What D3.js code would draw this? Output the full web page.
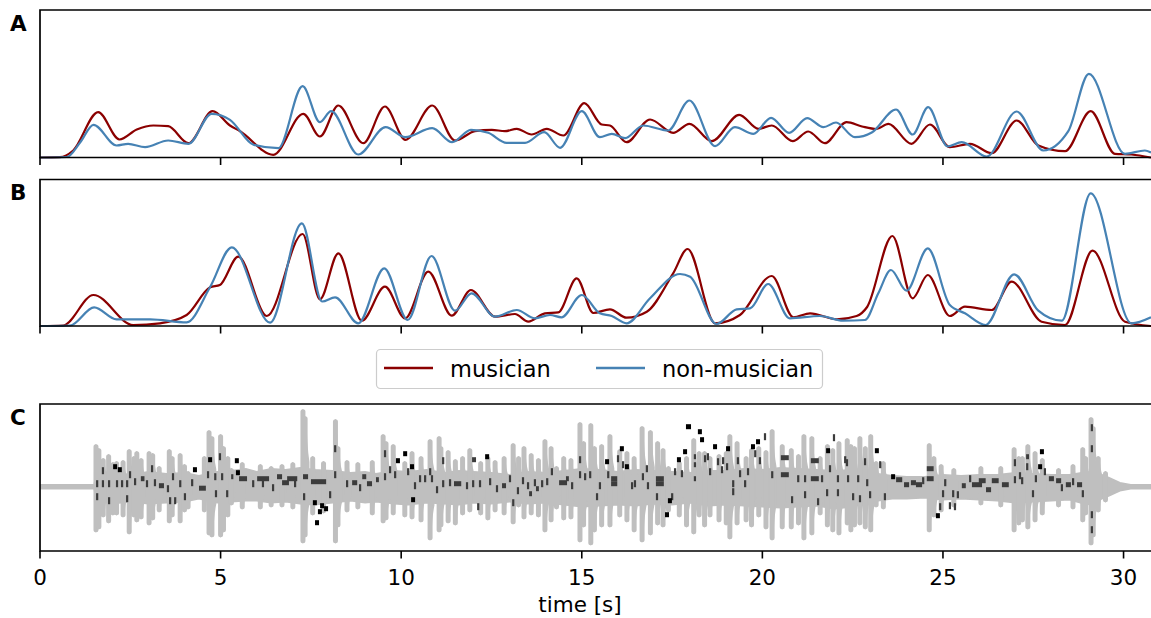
<!DOCTYPE html>
<html>
<head>
<meta charset="utf-8">
<script src="https://cdn.jsdelivr.net/npm/d3@7"></script>
<style>
  body { margin: 0; background: #fff; }
  svg { display: block; font-family: "DejaVu Sans", sans-serif; }
</style>
</head>
<body>
<svg id="chart" width="1151" height="618"></svg>
<script>
// time axis
var tickValues = [0, 5, 10, 15, 20, 25, 30]

// panel A: [time s, density]
var aMusician = [[0,0],[0.55,0.3],[0.92,7],[1.61,45.3],[2.20,18],[2.68,28],[3.14,32],[3.55,31.3],[4.11,14.3],[4.78,46.3],[5.26,32],[5.54,26.3],[6.46,2.7],[7.29,43.7],[7.75,21],[8.26,52],[8.95,14.3],[9.55,51],[10.12,17.7],[10.86,52],[11.49,17],[12.04,26.3],[12.51,27.7],[12.87,26.3],[13.20,28.7],[13.61,23],[14.03,28.7],[14.49,22],[15.07,54.3],[15.55,33],[15.78,32],[16.24,15.3],[16.89,38],[17.53,24.7],[17.98,33.7],[18.60,16.3],[19.36,42.7],[19.89,28.7],[20.26,32],[20.84,16.3],[21.27,26],[21.73,14.3],[22.33,35.3],[22.76,31],[23.16,28.5],[23.49,33.7],[24.13,13.7],[24.64,33],[25.19,10.3],[25.75,13.7],[26.35,4.3],[27.04,37],[27.64,12],[28.38,6.3],[29.09,46.3],[29.76,3.7],[30.22,3],[30.76,0]]
var aNonMusician = [[0,0],[0.74,0.5],[1.11,15],[1.48,32.7],[2.12,12],[2.44,13.7],[2.91,10.3],[3.55,17],[4.11,13.7],[4.75,43.7],[5.26,37.7],[5.91,12.7],[6.60,9.3],[7.27,71.3],[7.75,35.3],[8.06,46.3],[8.81,3],[9.57,30.3],[10.11,20.3],[10.86,29.3],[11.41,15.3],[11.93,27.7],[12.41,24.7],[12.92,14.7],[13.43,14.7],[13.96,25.3],[14.40,9.7],[15.00,46.3],[15.50,20.3],[15.83,23.7],[16.20,19.3],[16.70,32],[17.39,27],[17.98,57],[18.69,11.3],[19.24,30.3],[19.75,23.7],[20.24,39.7],[20.74,24.7],[21.24,39.3],[21.69,30.3],[22.04,35],[22.56,20.3],[23.03,25],[23.70,48],[24.16,23],[24.59,50.3],[25.13,11],[25.52,15.3],[26.21,1],[27.04,46],[27.78,7],[28.47,26.3],[29.04,83.7],[30.04,3.7],[30.59,7],[30.76,5]]

// panel B: [time s, density]
var bMusician = [[0,0],[0.64,0.5],[1.48,31],[2.58,1],[3.32,2.7],[4.06,11],[4.71,38.7],[4.98,41],[5.49,69.3],[6.28,10],[7.27,92],[7.75,26.7],[8.26,72.7],[8.91,5.3],[9.55,39.3],[10.11,7.7],[10.75,54.3],[11.40,10.3],[11.93,36],[12.60,9.3],[13.15,12],[13.52,4.3],[13.98,12.7],[14.35,13.7],[14.86,47.7],[15.32,13],[15.78,16.7],[16.24,8.3],[16.80,14.3],[17.53,52.7],[17.93,77],[18.69,2.7],[19.38,11],[20.26,50],[20.86,8.7],[21.32,12.7],[22.06,6.7],[22.61,10],[22.90,19],[23.60,90],[24.16,27.7],[24.58,51],[25.19,10],[25.61,19.3],[26.35,16],[26.90,44.3],[27.73,4.3],[28.38,1],[29.14,75.3],[30.04,4.3],[30.76,0]]
var bNonMusician = [[0,0],[0.83,0.5],[1.50,18.7],[2.12,6.7],[3.05,6.7],[4.06,3.7],[4.71,39],[5.31,78.7],[6.37,3.3],[7.25,102.7],[7.81,24.5],[8.17,28.7],[8.81,2.7],[9.53,57.7],[10.18,6],[10.84,70],[11.49,15.3],[11.95,32.7],[12.60,9.3],[13.20,16],[13.70,7.7],[14.12,11],[14.44,8.7],[15.00,31],[15.50,12.7],[15.83,10],[16.24,2.7],[16.89,27.7],[17.72,52],[18.00,49.3],[18.73,2],[19.29,16.7],[19.66,17.7],[20.16,42],[20.76,7.7],[21.59,10],[22.24,5.3],[22.84,6],[23.21,32.7],[23.56,56],[23.99,35.3],[24.58,77.7],[25.19,21],[25.61,12.7],[26.18,1],[26.97,51.7],[27.64,15.3],[28.29,5.3],[29.09,132.7],[30.22,2.7],[30.76,8.7]]

// panel C: waveform envelope [time s, upper, lower]
var waveBand = [[0,2,-2],[1.50,2,-2],[1.56,14,-14],[2.0,15,-17],[2.5,12,-15],[3.0,15,-17],[3.5,13,-16],[4.0,14,-15],[4.4,11,-12],[4.9,15,-16],[5.3,16,-15],[5.7,18,-14],[6.0,15,-14],[6.4,18,-16],[6.8,17,-15],[7.2,19,-17],[7.6,17,-18],[8.1,16,-16],[8.6,14,-14],[9.0,15,-16],[9.3,13,-15],[9.8,16,-17],[10.2,15,-18],[10.7,17,-16],[11.2,14,-17],[11.6,16,-18],[12.0,15,-16],[12.5,14,-17],[13.0,12,-15],[13.5,15,-17],[14.0,14,-16],[14.5,16,-18],[15.0,18,-20],[15.5,17,-19],[16.0,15,-18],[16.5,17,-19],[17.0,16,-17],[17.5,15,-18],[18.0,14,-16],[18.5,16,-19],[19.0,16,-18],[19.5,18,-19],[20.0,17,-20],[20.5,19,-21],[21.0,18,-20],[21.5,17,-19],[22.0,16,-22],[22.5,17,-20],[23.0,14,-15],[23.6,11,-12],[24.0,10,-12],[24.5,10,-11],[25.0,12,-13],[25.5,11,-12],[26.0,12,-13],[26.5,12,-14],[27.0,14,-16],[27.5,13,-15],[28.0,12,-14],[28.5,12,-13],[29.0,15,-18],[29.4,12,-12],[29.6,9,-9],[29.9,4,-4],[30.2,2,-2],[30.76,2,-2]]
// panel C: waveform peaks [time s, upper, lower]
var waveSpikes = [[1.55,42,-45],[1.63,38,-42],[1.75,28,-30],[1.90,32,-36],[2.02,24,-28],[2.12,25,-28],[2.30,26,-30],[2.47,37,-47],[2.60,30,-30],[2.68,35,-35],[2.80,28,-32],[3.02,35,-38],[3.12,33,-33],[3.30,20,-25],[3.58,37,-36],[3.66,30,-30],[3.88,33,-36],[4.00,22,-25],[4.10,15,-22],[4.55,30,-25],[4.68,56,-48],[4.76,50,-50],[5.00,52,-50],[5.08,40,-45],[5.20,30,-30],[5.30,18,-18],[5.60,24,-22],[6.10,22,-22],[6.40,20,-20],[6.70,22,-20],[7.00,24,-22],[7.28,77,-56],[7.34,70,-50],[7.55,30,-28],[7.85,25,-26],[8.18,67,-56],[8.25,40,-40],[8.50,26,-25],[8.80,24,-22],[9.20,26,-28],[9.50,52,-36],[9.58,45,-33],[9.78,42,-28],[10.10,25,-30],[10.30,35,-32],[10.55,30,-35],[10.80,47,-53],[11.05,50,-45],[11.10,40,-40],[11.30,36,-36],[11.50,27,-38],[11.70,30,-28],[11.90,38,-25],[12.20,25,-28],[12.40,30,-33],[12.60,26,-25],[12.85,30,-28],[13.10,43,-37],[13.25,30,-20],[13.40,40,-32],[13.60,33,-28],[13.80,28,-30],[13.98,47,-45],[14.15,40,-35],[14.30,20,-22],[14.50,30,-33],[14.70,28,-32],[14.95,64,-55],[15.05,45,-40],[15.25,63,-58],[15.35,40,-45],[15.55,42,-40],[15.78,52,-40],[16.05,37,-30],[16.25,35,-35],[16.45,30,-45],[16.67,60,-55],[16.90,56,-48],[17.10,45,-38],[17.25,38,-40],[17.40,20,-25],[17.70,25,-30],[17.90,30,-40],[18.10,48,-47],[18.25,35,-30],[18.40,35,-40],[18.55,30,-30],[18.80,32,-35],[19.00,35,-38],[19.10,52,-52],[19.30,45,-38],[19.55,30,-35],[19.70,38,-40],[19.90,40,-30],[20.10,36,-42],[20.27,57,-53],[20.55,42,-42],[20.80,38,-42],[21.00,32,-38],[21.15,52,-53],[21.37,50,-48],[21.60,30,-28],[21.80,42,-40],[21.95,38,-45],[22.12,45,-48],[22.35,48,-38],[22.45,42,-45],[22.55,40,-40],[22.70,50,-38],[22.85,40,-42],[23.00,52,-45],[23.15,25,-20],[23.35,25,-22],[24.62,43,-45],[24.75,30,-30],[24.95,22,-25],[25.30,18,-20],[26.05,20,-18],[26.60,20,-20],[26.97,39,-45],[27.10,30,-38],[27.20,30,-35],[27.35,42,-42],[27.55,35,-35],[27.75,28,-28],[28.20,18,-20],[28.60,22,-22],[28.87,39,-35],[28.95,30,-28],[29.10,69,-58],[29.16,60,-50],[29.30,30,-25],[29.50,15,-15]]

// panel C: notes [onset s, level, duration s]
var notes = [[1.58,3,0],[1.58,-10,0],[1.74,16,0],[1.74,3,0],[1.91,-14,0],[1.91,3,0],[2.13,3,0],[2.27,3,0],[2.41,3,0],[2.41,-12,0],[2.49,12,0],[2.63,5,0],[2.82,8,0.1],[2.96,3,0],[3.10,18,0],[3.18,4,0],[3.32,1,0.14],[3.54,-2,0],[3.60,-14,0],[3.68,10,0],[3.74,-14,0],[3.88,3,0],[4.01,-10,0],[4.21,4,0],[4.43,-1.5,0.19],[4.65,12,0],[4.85,10,0],[4.87,-7,0],[4.98,30,0],[5.04,10,0],[5.18,-7,0],[5.32,10,0.06],[5.54,8,0.22],[5.90,3,0],[6.04,8,0.33],[6.17,3,0],[6.45,-1,0],[6.59,10,0.14],[6.73,4,0.19],[6.87,8,0.28],[7.06,3,0],[7.31,10,0.14],[7.31,-10,0],[7.53,5,0.42],[8.03,-8,0],[8.17,38,0],[8.17,12,0],[8.50,3,0],[8.67,4,0.14],[8.86,-1,0],[8.95,10,0.11],[9.08,3,0.14],[9.33,7,0.08],[9.55,33,0],[9.55,10,0],[9.69,17,0],[9.83,12,0],[10.19,15,0],[10.38,1,0],[10.52,8,0],[10.66,8,0],[10.80,15,0],[10.85,8,0],[10.99,-3,0],[11.16,26,0],[11.16,3,0],[11.35,4,0],[11.49,3,0.2],[11.82,1,0],[11.99,27,0.11],[11.99,3,0],[12.13,-20,0],[12.18,3,0],[12.46,5,0],[12.65,-2,0],[12.82,1,0.11],[13.01,8,0],[13.10,-16,0],[13.23,-4,0],[13.37,6,0],[13.51,1,0],[13.57,-7,0.08],[13.70,4,0],[13.76,-2,0.08],[13.90,3,0],[14.04,5,0],[14.17,15,0],[14.40,4,0.22],[14.59,8,0.08],[14.73,1,0],[14.95,27,0],[14.95,12,0],[15.09,10,0],[15.23,12,0],[15.42,-10,0],[15.50,1,0],[15.73,12,0],[15.84,8,0.17],[15.84,3,0.17],[16.00,28,0],[16.14,22,0],[16.39,1,0],[16.47,3,0],[16.69,10,0],[16.80,18,0],[16.83,1,0],[17.08,8,0.22],[17.08,3,0.22],[17.08,-10,0],[17.50,-10,0],[17.58,15,0],[17.77,13,0],[18.13,30,0.06],[18.13,22,0.06],[18.13,8,0.06],[18.41,28,0],[18.49,30,0],[18.55,15,0],[18.77,25,0],[18.88,17,0],[18.91,26,0],[19.02,20,0],[19.19,-5,0],[19.19,3,0],[19.32,26,0],[19.38,13,0],[19.52,3,0],[19.60,15,0],[19.80,33,0],[19.93,26,0],[20.07,50,0],[20.27,12,0],[20.54,29,0.22],[20.54,12,0.22],[20.82,-13,0],[20.99,8,0],[21.18,8,0],[21.18,-8,0],[21.37,26,0.22],[21.37,8,0.22],[21.54,-15,0],[21.65,8,0],[21.79,-6,0],[21.87,18,0],[21.98,49,0],[22.09,8,0],[22.09,-6,0],[22.29,27,0],[22.34,24,0],[22.37,8,0],[22.51,-10,0],[22.65,8,0],[22.70,-12,0],[22.84,25,0],[22.90,4,0],[22.98,-8,0],[23.26,22,0],[23.39,-10,0],[23.73,7,0.17],[23.95,2,0.14],[24.14,4,0.14],[24.28,2,0.17],[24.45,6,0],[24.58,18,0.19],[24.58,8,0.19],[24.92,-20,0],[25.00,-7,0],[25.06,4,0],[25.19,-19,0],[25.28,-7,0],[25.33,-20,0],[25.41,-8,0],[25.55,1,0.11],[25.75,8,0],[25.83,2,0.28],[26.02,6,0.19],[26.22,-3,0.14],[26.38,6,0.19],[26.66,2,0.19],[26.99,24,0],[26.99,7,0],[27.13,11,0],[27.19,6,0],[27.33,30,0.08],[27.33,20,0],[27.49,-7,0],[27.57,8,0],[27.82,15,0],[27.96,8,0.14],[28.16,6,0.14],[28.29,-1,0],[28.43,2,0.14],[28.60,5,0],[28.74,2,0.14],[28.87,-7,0],[29.12,59,0],[29.12,38,0],[29.12,-28,0],[29.12,-43,0]]
// panel C: isolated notes drawn in black [onset s, level, duration s]
var blackNotes = [[2.08,20,0],[2.21,17,0],[4.29,17,0],[4.71,27,0],[5.45,26,0],[5.48,14,0],[7.61,-16,0],[7.67,-36,0],[7.75,-25,0],[7.81,-19,0],[7.92,-22,0],[9.91,26,0],[10.11,33,0],[10.30,20,0],[10.33,-13,0],[12.38,30,0],[15.70,25,0],[16.11,38,0],[16.25,20,0],[17.36,-28,0],[17.44,-14,0],[17.69,27,0],[17.86,35,0],[17.94,60,0.14],[18.27,55,0],[18.33,47,0],[18.69,40,0],[19.05,38,0],[19.74,40,0],[19.88,45,0],[21.82,36,0],[23.17,36,0],[23.62,10,0],[24.86,-29,0],[27.69,20,0],[27.74,35,0]]

var musicianColor = "#8b0000"
var nonMusicianColor = "#4682b4"
var waveColor = "#bfbfbf"

var svg = d3.select("#chart")

const left = 40, right = 1151
var x = d3.scaleLinear().domain([0, 30.76]).range([left, right])

var panels = [
    { label: "A", top: 10, bottom: 157.5, series: [aMusician, aNonMusician], ymax: 147.5 },
    { label: "B", top: 179.5, bottom: 326, series: [bMusician, bNonMusician], ymax: 146.5 },
    { label: "C", top: 404, bottom: 551 }
]

function drawFrame (p) {
    var g = svg.append("g")
    // spines: left, top, bottom (right one lies outside the window)
    g.append("path")
        .attr("d", `M${right + 5},${p.top}H${left}V${p.bottom}H${right + 5}`)
        .attr("fill", "none")
        .attr("stroke", "#000")
        .attr("stroke-width", 1.7)
    g.selectAll("line.tick")
        .data(tickValues)
        .enter()
        .append("line")
        .attr("x1", d => x(d)).attr("x2", d => x(d))
        .attr("y1", p.bottom).attr("y2", p.bottom + 7.5)
        .attr("stroke", "#000")
        .attr("stroke-width", 1.6)
    svg.append("text")
        .attr("x", 10)
        .attr("y", p.top + 20.5)
        .attr("font-size", 21.5)
        .attr("font-weight", "bold")
        .text(p.label)
}

// panels A and B: smoothed curves
panels.slice(0, 2).forEach(p => {
    var y = d3.scaleLinear().domain([0, p.ymax]).range([p.bottom, p.top])
    var line = d3.line()
        .x(d => x(d[0]))
        .y(d => y(d[1]))
        .curve(d3.curveMonotoneX)
    var colors = [musicianColor, nonMusicianColor]
    p.series.forEach((s, i) => {
        svg.append("path")
            .attr("d", line(s))
            .attr("fill", "none")
            .attr("stroke", colors[i])
            .attr("stroke-width", 2.2)
    })
})

// panel C: waveform and notes
var pc = panels[2]
var yC = d3.scaleLinear().domain([-64.3, 82.7]).range([pc.bottom, pc.top])

var clip = svg.append("clipPath").attr("id", "clipC")
clip.append("rect").attr("x", left).attr("y", pc.top).attr("width", right - left).attr("height", pc.bottom - pc.top)

var gC = svg.append("g").attr("clip-path", "url(#clipC)")
var band = d3.area()
    .x(d => x(d[0]))
    .y0(d => yC(d[2]))
    .y1(d => yC(d[1]))
gC.append("path")
    .attr("d", band(waveBand))
    .attr("fill", waveColor)
    .attr("stroke", waveColor)
    .attr("stroke-width", 1.5)

// each peak: quick attack, short decay (drawing shape only)
var peakShape = [[-0.035, 0.35], [-0.008, 1], [0.012, 0.95], [0.045, 0.62], [0.1, 0.35]]
var peakArea = d3.area()
    .x(d => d[0])
    .y0(d => d[2])
    .y1(d => d[1])
    .curve(d3.curveMonotoneX)
gC.selectAll("path.peak")
    .data(waveSpikes)
    .enter()
    .append("path")
    .attr("d", s => peakArea(peakShape.map(k => [x(s[0] + k[0]), yC(s[1] * k[1]), yC(s[2] * k[1])])))
    .attr("fill", waveColor)
    .attr("stroke", waveColor)
    .attr("stroke-width", 1.5)

gC.selectAll("line.spike")
    .data(waveSpikes)
    .enter()
    .append("line")
    .attr("x1", d => x(d[0])).attr("x2", d => x(d[0]))
    .attr("y1", d => yC(d[1]) + 2).attr("y2", d => yC(d[2]) - 2)
    .attr("stroke", waveColor)
    .attr("stroke-width", 5)
    .attr("stroke-linecap", "round")

gC.selectAll("rect.note")
    .data(notes)
    .enter()
    .append("rect")
    .attr("x", d => x(d[0]) - 1)
    .attr("y", d => yC(d[1]) - (d[2] > 0 ? 2.5 : 3.5))
    .attr("width", d => Math.max(2.2, x(d[0] + d[2]) - x(d[0])))
    .attr("height", d => d[2] > 0 ? 5 : 7)
    .attr("fill", "#3c3c3c")

gC.selectAll("rect.black")
    .data(blackNotes)
    .enter()
    .append("rect")
    .attr("x", d => x(d[0]) - 2)
    .attr("y", d => yC(d[1]) - 2.5)
    .attr("width", d => Math.max(4, x(d[0] + d[2]) - x(d[0])))
    .attr("height", 5)
    .attr("fill", "#000")

panels.forEach(drawFrame)

// tick labels on the bottom panel
svg.selectAll("text.tl")
    .data(tickValues)
    .enter()
    .append("text")
    .attr("x", d => x(d))
    .attr("y", 585)
    .attr("text-anchor", "middle")
    .attr("font-size", 21.5)
    .text(d => d)

svg.append("text")
    .attr("x", 580)
    .attr("y", 612)
    .attr("text-anchor", "middle")
    .attr("font-size", 21.5)
    .text("time [s]")

// legend
var lg = svg.append("g")
lg.append("rect")
    .attr("x", 376.5).attr("y", 349.5)
    .attr("width", 446).attr("height", 39)
    .attr("rx", 4)
    .attr("fill", "#fff")
    .attr("stroke", "#cccccc")
    .attr("stroke-width", 1.2)
var legendItems = [
    { name: "musician", color: musicianColor, x0: 384 },
    { name: "non-musician", color: nonMusicianColor, x0: 596 }
]
legendItems.forEach(it => {
    lg.append("line")
        .attr("x1", it.x0).attr("x2", it.x0 + 49)
        .attr("y1", 368).attr("y2", 368)
        .attr("stroke", it.color)
        .attr("stroke-width", 2.4)
    lg.append("text")
        .attr("x", it.x0 + 66)
        .attr("y", 376.5)
        .attr("font-size", 22.5)
        .text(it.name)
})
</script>
</body>
</html>
